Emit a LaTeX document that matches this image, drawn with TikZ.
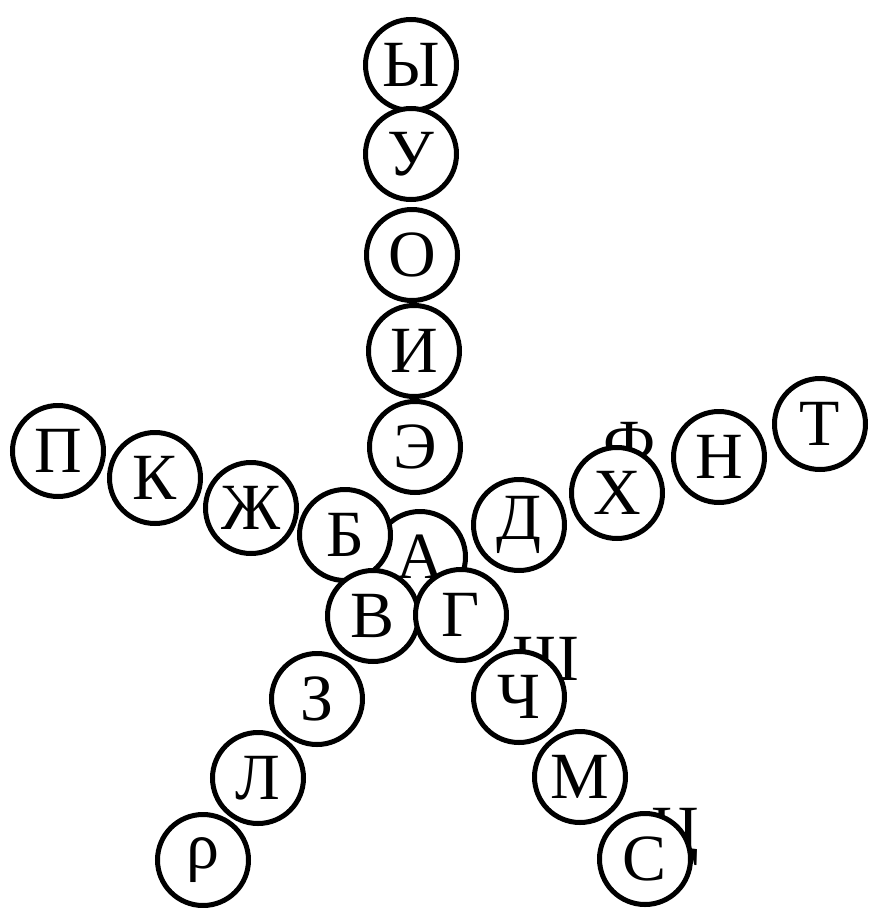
\documentclass[tikz,border=0pt]{standalone}
\usepackage{fontspec}
\setmainfont{Liberation Serif}
\usepackage{xcolor}
\usepackage{tikz}
\definecolor{inkColor}{HTML}{000000}
\definecolor{paperBg}{HTML}{FFFFFF}

\begin{document}
\begin{tikzpicture}[
        x=1pt, y=-1pt,
        letterRing/.style={draw=inkColor, fill=paperBg, circle, line width=5pt, minimum size=91pt, inner sep=0pt, font=\fontsize{66}{70}\selectfont, text=inkColor},
        loseLetter/.style={anchor=north, inner sep=0pt, font=\fontsize{66}{70}\selectfont, text=inkColor}
    ]
        \useasboundingbox[fill=paperBg] (0,0) rectangle (869,908);

        % Letters half hidden behind the rings
        \node[loseLetter, at={(630,422)}] (ef) {Ф};
        \node[loseLetter, at={(546,637)}] (sha) {Ш};
        \node[loseLetter, at={(675,808)}] (tse) {Ц};

        % Vertical arm
        \node[letterRing, at={(411,65)}] (yery) {Ы};
        \node[letterRing, at={(411,154)}] (u) {У};
        \node[letterRing, at={(412,255)}] (o) {О};
        \node[letterRing, at={(414,351)}] (i) {И};
        \node[letterRing, at={(415,447)}] (e) {Э};

        % Centre
        \node[letterRing, at={(420,557)}] (a) {А};
        \node[letterRing, at={(345,535)}] (be) {Б};
        \node[letterRing, at={(373,616)}] (ve) {В};
        \node[letterRing, at={(461,615)}] (ge) {Г};

        % Left arm
        \node[letterRing, at={(251,508)}] (zhe) {Ж};
        \node[letterRing, at={(155,478)}] (ka) {К};
        \node[letterRing, at={(58,451)}] (pe) {П};

        % Right arm
        \node[letterRing, at={(519,525)}] (de) {Д};
        \node[letterRing, at={(617,493)}] (kha) {Х};
        \node[letterRing, at={(719,457)}] (en) {Н};
        \node[letterRing, at={(820,424)}] (te) {Т};

        % Lower left arm
        \node[letterRing, at={(317,699)}] (ze) {З};
        \node[letterRing, at={(258,778)}] (el) {Л};
        \node[letterRing, at={(203,860)}] (rho) {ρ};

        % Lower right arm
        \node[letterRing, at={(519,697)}] (che) {Ч};
        \node[letterRing, at={(580,777)}] (em) {М};
        \node[letterRing, at={(645,859)}] (es) {С};
    \end{tikzpicture}
\end{document}
